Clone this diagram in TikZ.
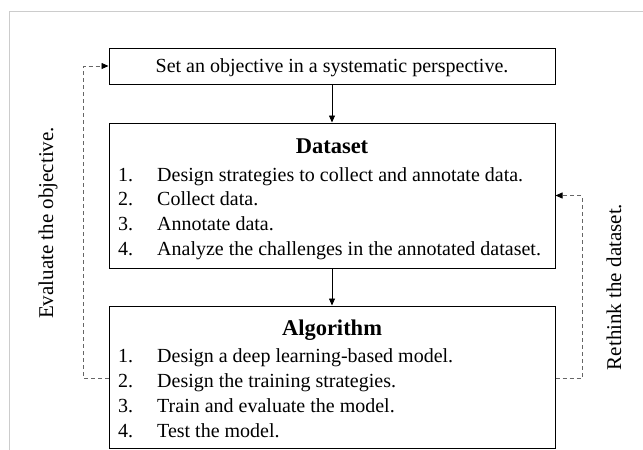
\documentclass[tikz,border=0pt]{standalone}
\usepackage{fontspec}
\setmainfont{Liberation Serif}
\usetikzlibrary{arrows.meta}
\begin{document}
\begin{tikzpicture}[x=1pt,y=-1pt,
  box/.style={draw=black, line width=1pt, inner sep=0pt},
  txt/.style={inner sep=0pt, font=\fontsize{20}{24}\selectfont},
  side/.style={inner sep=0pt, font=\fontsize{21}{24}\selectfont, rotate=90},
  item/.style={txt, anchor=base west},
  ttl/.style={anchor=base, inner sep=0pt, font=\fontsize{22.5}{26}\selectfont\bfseries},
  flow/.style={line width=0.8pt, -{Triangle[length=7pt,width=6pt]}},
  fb/.style={line width=0.8pt, draw=black!60, dash pattern=on 4pt off 3pt, -{Triangle[length=7pt,width=6pt,color=black,fill=black]}}
]
\useasboundingbox (0,0) rectangle (643,450);
\draw[black!20, line width=1pt] (9,450) -- (9,11) -- (643,11);

\node[box, minimum width=446pt, minimum height=36pt] (top) at (332,66) {};
\node[txt, anchor=base] (toptxt) at (332,72) {Set an objective in a systematic perspective.};

\node[box, minimum width=446pt, minimum height=145pt] (ds) at (332,195.5) {};
\node[ttl] (dst) at (332,153) {Dataset};
\node[item] (dn1) at (118,181) {1.};
\node[item] (dt1) at (157,181) {Design strategies to collect and annotate data.};
\node[item] (dn2) at (118,205.7) {2.};
\node[item] (dt2) at (157,205.7) {Collect data.};
\node[item] (dn3) at (118,230.3) {3.};
\node[item] (dt3) at (157,230.3) {Annotate data.};
\node[item] (dn4) at (118,255) {4.};
\node[item] (dt4) at (157,255) {Analyze the challenges in the annotated dataset.};

\node[box, minimum width=446pt, minimum height=142pt] (alg) at (332,377) {};
\node[ttl] (algt) at (332,335) {Algorithm};
\node[item] (an1) at (118,362) {1.};
\node[item] (at1) at (157,362) {Design a deep learning-based model.};
\node[item] (an2) at (118,387) {2.};
\node[item] (at2) at (157,387) {Design the training strategies.};
\node[item] (an3) at (118,412) {3.};
\node[item] (at3) at (157,412) {Train and evaluate the model.};
\node[item] (an4) at (118,437) {4.};
\node[item] (at4) at (157,437) {Test the model.};

\draw[flow] (top.south) -- (ds.north);
\draw[flow] (ds.south) -- (alg.north);

\coordinate (lc1) at (83,378);
\coordinate (lc2) at (83,66);
\draw[fb] (lc1 -| alg.west) -- (lc1) -- (lc2) -- (top.west);

\coordinate (rc1) at (582,378);
\coordinate (rc2) at (582,195.5);
\draw[fb] (rc1 -| alg.east) -- (rc1) -- (rc2) -- (ds.east);

\node[side] (evl) at (48,223) {Evaluate the objective.};
\node[side] (rth) at (614,287) {Rethink the dataset.};
\end{tikzpicture}
\end{document}
